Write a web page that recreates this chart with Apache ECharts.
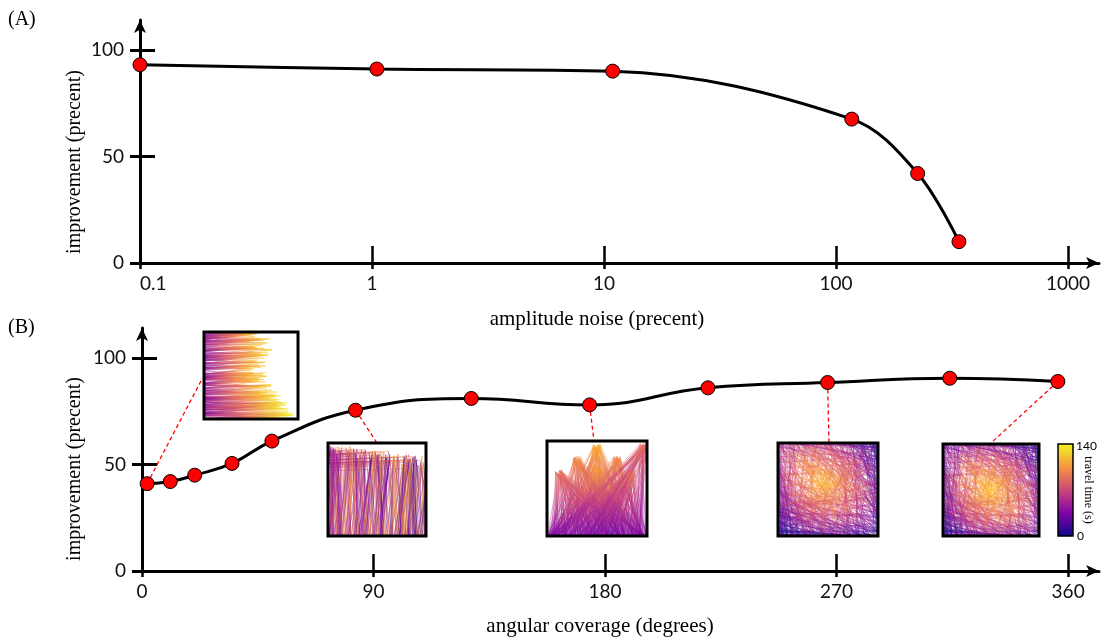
<!DOCTYPE html>
<html><head><meta charset="utf-8">
<script src="https://cdn.jsdelivr.net/npm/echarts@6/dist/echarts.min.js"></script>
<style>html,body{margin:0;padding:0;background:#fff}#c{width:1110px;height:639px}</style>
</head><body><div id="c"></div>
<script>
// ---- data ----
const noiseX = [0.1, 1.05, 10.9, 117, 225, 339];
const noiseY = [93, 91, 90, 67.5, 42, 10];
const noiseTicks = [0.1, 1, 10, 100, 1000];
const angleX = [2, 11, 20.5, 35, 50.5, 83, 128, 174, 220, 266.5, 314, 356];
const angleY = [41, 42, 45, 50.5, 61, 75.5, 81, 78, 86, 88.5, 90.5, 89];
const angleTicks = [0, 90, 180, 270, 360];
const yTicks = [0, 50, 100];
const insetPointIdx = [0, 5, 7, 9, 11];
const colorbarTicks = ['140', '0'];

const chart = echarts.init(document.getElementById('c'), null, {renderer: 'canvas'});
const SANS = 'Lato, "Open Sans", sans-serif';
const SERIF = '"Liberation Serif", "DejaVu Serif", serif';
const PLASMA = [[0,'#0d0887'],[0.25,'#7e03a8'],[0.5,'#cc4778'],[0.75,'#f89540'],[1,'#f0f921']];

function mainX(type, min, max, ticks, alignMin, grid) {
  return {
    type, min, max, logBase: 10, gridIndex: grid, position: 'bottom',
    axisLine: {show: true, onZero: false, lineStyle: {color: '#000', width: 3}, symbol: ['none', 'arrow'], symbolSize: [9, 13]},
    axisTick: {show: true, inside: false, length: 6, lineStyle: {color: '#000', width: 2.5}, customValues: ticks},
    axisLabel: {show: true, margin: 11, color: '#111', fontSize: 19, fontFamily: SANS, customValues: ticks,
      alignMinLabel: alignMin ? 'left' : undefined,
      formatter: v => String(ticks.reduce((a, b) => Math.abs(b - v) < Math.abs(a - v) ? b : a))},
    splitLine: {show: false}
  };
}
function innerX(type, min, max, ticks, grid) {
  return {
    type, min, max, logBase: 10, gridIndex: grid, position: 'bottom',
    axisLine: {show: false, onZero: false}, axisLabel: {show: false}, splitLine: {show: false},
    axisTick: {show: true, inside: true, length: 17, lineStyle: {color: '#000', width: 2.5}, customValues: ticks}
  };
}
function mainY(max, grid) {
  return {
    type: 'value', min: 0, max, gridIndex: grid, position: 'left',
    axisLine: {show: true, onZero: false, lineStyle: {color: '#000', width: 3}, symbol: ['none', 'arrow'], symbolSize: [9, 13]},
    axisTick: {show: true, inside: false, length: 10, lineStyle: {color: '#000', width: 3}, customValues: yTicks},
    axisLabel: {show: true, margin: 16, color: '#111', fontSize: 19, fontFamily: SANS, customValues: yTicks},
    splitLine: {show: false}
  };
}
function innerY(max, grid) {
  return {
    type: 'value', min: 0, max, gridIndex: grid, position: 'left',
    axisLine: {show: false, onZero: false}, axisLabel: {show: false}, splitLine: {show: false},
    axisTick: {show: true, inside: true, length: 15, lineStyle: {color: '#000', width: 3}, customValues: yTicks}
  };
}

const seriesStyle = {
  type: 'line', symbol: 'circle', symbolSize: 14,
  itemStyle: {color: '#ff0000', borderColor: '#000', borderWidth: 1},
  lineStyle: {color: '#000', width: 3}, z: 5
};

chart.setOption({
  animation: false,
  backgroundColor: '#fff',
  grid: [
    {left: 140, top: 20, width: 959, height: 243},
    {left: 142, top: 328, width: 957, height: 243}
  ],
  xAxis: [mainX('log', 0.1, 1361, noiseTicks, true, 0), innerX('log', 0.1, 1361, noiseTicks, 0),
          mainX('value', 0, 372, angleTicks, false, 1), innerX('value', 0, 372, angleTicks, 1)],
  yAxis: [mainY(114, 0), innerY(114, 0), mainY(114.1, 1), innerY(114.1, 1)],
  series: [
    Object.assign({}, seriesStyle, {xAxisIndex: 0, yAxisIndex: 0, smooth: 0.35,
      data: noiseX.map((x, i) => [x, noiseY[i]])}),
    Object.assign({}, seriesStyle, {xAxisIndex: 2, yAxisIndex: 2, smooth: 0.45,
      data: angleX.map((x, i) => [x, angleY[i]])})
  ]
});

// ---- inset textures (decorative ray pictures, not data) ----
function hsh(i, s) { const v = Math.sin(i * 127.1 + s * 311.7) * 43758.5453; return v - Math.floor(v); }
function plasmaAt(t) {
  const stops = [[0,[13,8,135]],[0.13,[84,2,163]],[0.25,[126,3,168]],[0.38,[170,35,149]],[0.5,[204,71,120]],
                 [0.63,[230,108,92]],[0.75,[248,149,64]],[0.88,[253,196,40]],[1,[240,249,33]]];
  t = Math.max(0, Math.min(1, t));
  for (let k = 1; k < stops.length; k++) {
    if (t <= stops[k][0]) {
      const a = stops[k - 1], b = stops[k], f = (t - a[0]) / (b[0] - a[0]);
      const c = a[1].map((v, j) => Math.round(v + (b[1][j] - v) * f));
      return 'rgb(' + c.join(',') + ')';
    }
  }
  return 'rgb(240,249,33)';
}
function ray(ctx, pts, t0, t1) {
  const g = ctx.createLinearGradient(pts[0][0], pts[0][1], pts[pts.length - 1][0], pts[pts.length - 1][1]);
  g.addColorStop(0, plasmaAt(t0)); g.addColorStop(1, plasmaAt(t1));
  ctx.strokeStyle = g;
  ctx.beginPath(); ctx.moveTo(pts[0][0], pts[0][1]);
  for (let k = 1; k < pts.length; k++) ctx.lineTo(pts[k][0], pts[k][1]);
  ctx.stroke();
}
function makeTex(kind, w, h) {
  const c = document.createElement('canvas');
  c.width = w; c.height = h;
  const ctx = c.getContext('2d');
  ctx.fillStyle = '#fff'; ctx.fillRect(0, 0, w, h);
  ctx.lineWidth = 0.9;
  if (kind === 1) {
    ctx.globalAlpha = 0.6;
    for (let i = 0; i < 150; i++) {
      const y = hsh(i, 1) * h;
      const band = Math.sin(y / h * 8 + 0.5) * 0.08;
      const len = w * Math.min(0.95, 0.38 + 0.3 * (y / h) + band + 0.22 * hsh(i, 2));
      const tip = y + (hsh(i, 3) - 0.6) * 10;
      // spike: two rays from left edge converging at the tip
      const g = ctx.createLinearGradient(0, 0, len, 0);
      const t0 = 0.2 + 0.25 * hsh(i, 6);
      g.addColorStop(0, plasmaAt(t0)); g.addColorStop(0.5, plasmaAt(0.55 + 0.15 * hsh(i, 7)));
      g.addColorStop(1, plasmaAt(0.72 + 0.28 * (len / w)));
      ctx.strokeStyle = g;
      ctx.beginPath();
      ctx.moveTo(0, y + (hsh(i, 4) - 0.3) * 8); ctx.lineTo(len, tip); ctx.lineTo(0, tip + (hsh(i, 5) - 0.4) * 8);
      ctx.stroke();
    }
  } else if (kind === 2) {
    ctx.globalAlpha = 0.5;
    for (let i = 0; i < 170; i++) {
      const x = hsh(i, 1) * w;
      const top = h * (0.02 + 0.14 * (x / w) + 0.12 * hsh(i, 2));
      const x1 = x + (hsh(i, 3) - 0.3) * 22;
      ray(ctx, [[x, h], [x1, top], [x1 + (hsh(i, 4) - 0.5) * 25, h]], 0.1 + 0.2 * (1 - x / w), 0.65 + 0.15 * hsh(i, 5));
      if (i % 4 === 0) ray(ctx, [[0, top + 3], [x1, top]], 0.35, 0.72);
    }
  } else if (kind === 3) {
    ctx.globalAlpha = 0.45;
    const apex = [[0.5, 0.03], [0.3, 0.16], [0.7, 0.16], [0.97, 0.02], [0.12, 0.3], [0.85, 0.3], [0.5, 0.25]];
    for (let i = 0; i < 280; i++) {
      const a = apex[i % apex.length];
      const ax = a[0] * w + (hsh(i, 1) - 0.5) * 8, ay = a[1] * h + hsh(i, 2) * 6;
      const bx = hsh(i, 3) * w, cx = hsh(i, 4) * w;
      const edge = Math.abs(a[0] - 0.5) * 2;
      const g = ctx.createLinearGradient(0, ay, 0, h);
      g.addColorStop(0, plasmaAt(0.75 - 0.2 * edge + 0.1 * hsh(i, 6)));
      g.addColorStop(0.5, plasmaAt(0.55 - 0.15 * edge));
      g.addColorStop(1, plasmaAt(0.18 + 0.12 * hsh(i, 5)));
      ctx.strokeStyle = g;
      ctx.beginPath(); ctx.moveTo(bx, h); ctx.lineTo(ax, ay); ctx.lineTo(cx, h); ctx.stroke();
    }
  } else {
    const cx = kind === 4 ? w * 0.45 : w * 0.5, cy = kind === 4 ? h * 0.42 : h * 0.5;
    ctx.globalAlpha = 0.42;
    for (let i = 0; i < 420; i++) {
      const side = Math.floor(hsh(i, 1) * 4);
      let p0, p1;
      const u = hsh(i, 2), v = hsh(i, 3);
      if (side === 0) { p0 = [u * w, 0]; p1 = [v * w, h]; }
      else if (side === 1) { p0 = [0, u * h]; p1 = [w, v * h]; }
      else if (side === 2) { p0 = [u * w, 0]; p1 = [w, v * h]; }
      else { p0 = [0, u * h]; p1 = [v * w, h]; }
      const mx = (p0[0] + p1[0]) / 2, my = (p0[1] + p1[1]) / 2;
      const d = Math.hypot((mx - cx) / w, (my - cy) / h);
      const tc = 0.85 - d * 0.9 + (hsh(i, 4) - 0.5) * 0.2;
      const g = ctx.createRadialGradient(cx, cy, 0, cx, cy, w * 0.75);
      g.addColorStop(0, plasmaAt(tc + 0.03));
      g.addColorStop(0.45, plasmaAt(tc - 0.1));
      g.addColorStop(0.8, plasmaAt(tc - 0.35));
      g.addColorStop(1, plasmaAt(tc - 0.55));
      ctx.strokeStyle = g;
      ctx.beginPath(); ctx.moveTo(p0[0], p0[1]); ctx.lineTo(p1[0], p1[1]); ctx.stroke();
    }
  }
  return c;
}

const boxes = [
  {kind: 1, x: 204, y: 332, w: 94, h: 87, end: [202, 379]},
  {kind: 2, x: 328, y: 443, w: 98, h: 93, end: [377, 443]},
  {kind: 3, x: 547, y: 441, w: 100, h: 95, end: [594, 441]},
  {kind: 4, x: 778, y: 443, w: 100, h: 93, end: [829, 443]},
  {kind: 5, x: 943, y: 444, w: 96, h: 92, end: [990, 444]}
];

const graphics = [];
boxes.forEach((b, k) => {
  const idx = insetPointIdx[k];
  const p = chart.convertToPixel({seriesIndex: 1}, [angleX[idx], angleY[idx]]);
  graphics.push({type: 'line', z: 3, shape: {x1: p[0], y1: p[1], x2: b.end[0], y2: b.end[1]},
    style: {stroke: '#ff0000', lineWidth: 1.3, lineDash: [4, 3]}});
  graphics.push({type: 'image', z: 2, style: {image: makeTex(b.kind, b.w, b.h), x: b.x, y: b.y, width: b.w, height: b.h}});
  graphics.push({type: 'rect', z: 4, shape: {x: b.x, y: b.y, width: b.w, height: b.h},
    style: {fill: 'none', stroke: '#000', lineWidth: 3}});
});
// colorbar
graphics.push({type: 'rect', z: 4, shape: {x: 1058, y: 444, width: 15, height: 92},
  style: {stroke: '#000', lineWidth: 1.5,
    fill: new echarts.graphic.LinearGradient(0, 1, 0, 0, PLASMA.map(s => ({offset: s[0], color: s[1]})))}});
graphics.push({type: 'text', z: 4, style: {text: colorbarTicks[0], x: 1076, y: 446, font: '12px ' + SANS, fill: '#000', verticalAlign: 'middle'}});
graphics.push({type: 'text', z: 4, style: {text: colorbarTicks[1], x: 1077, y: 536, font: '12px ' + SANS, fill: '#000', verticalAlign: 'middle'}});
graphics.push({type: 'text', z: 4, x: 1088, y: 490, rotation: -Math.PI / 2,
  style: {text: 'travel time (s)', font: '12px ' + SERIF, fill: '#000', align: 'center', verticalAlign: 'middle'}});
// titles
graphics.push({type: 'text', style: {text: '(A)', x: 8, y: 20, font: '20px ' + SERIF, fill: '#000', verticalAlign: 'middle'}});
graphics.push({type: 'text', style: {text: '(B)', x: 8, y: 328, font: '20px ' + SERIF, fill: '#000', verticalAlign: 'middle'}});
graphics.push({type: 'text', style: {text: 'amplitude noise (precent)', x: 597, y: 319, font: '21px ' + SERIF, fill: '#000', align: 'center', verticalAlign: 'middle'}});
graphics.push({type: 'text', style: {text: 'angular coverage (degrees)', x: 600, y: 626, font: '21px ' + SERIF, fill: '#000', align: 'center', verticalAlign: 'middle'}});
graphics.push({type: 'text', x: 75, y: 162, rotation: Math.PI / 2,
  style: {text: 'improvement (precent)', font: '20px ' + SERIF, fill: '#000', align: 'center', verticalAlign: 'middle'}});
graphics.push({type: 'text', x: 75, y: 469, rotation: Math.PI / 2,
  style: {text: 'improvement (precent)', font: '20px ' + SERIF, fill: '#000', align: 'center', verticalAlign: 'middle'}});

chart.setOption({graphic: graphics});
</script></body></html>
